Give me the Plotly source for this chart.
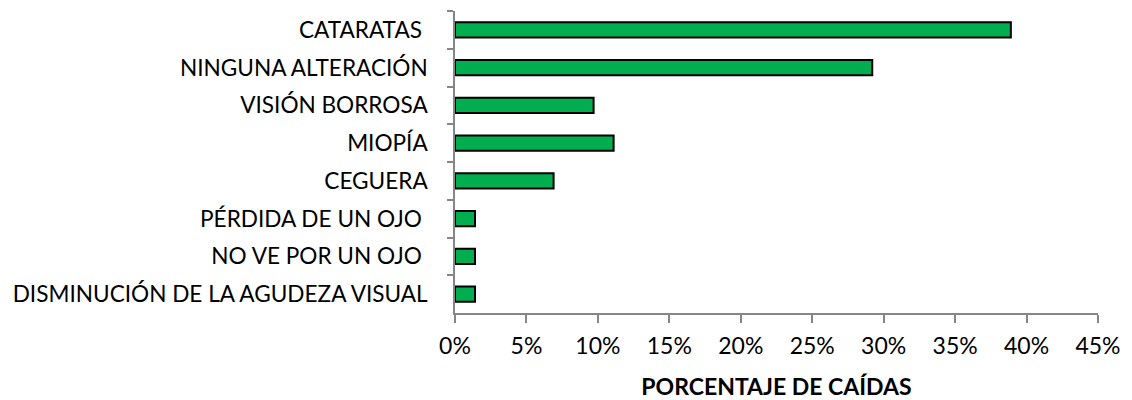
import plotly.graph_objects as go

categorias = [
    "CATARATAS\u00a0",
    "NINGUNA ALTERACIÓN",
    "VISIÓN BORROSA",
    "MIOPÍA",
    "CEGUERA",
    "PÉRDIDA DE UN OJO\u00a0",
    "NO VE POR UN OJO\u00a0",
    "DISMINUCIÓN DE LA AGUDEZA VISUAL",
]
porcentajes = [0.389, 0.292, 0.097, 0.111, 0.069, 0.014, 0.014, 0.014]
ticks_x = [0, 0.05, 0.10, 0.15, 0.20, 0.25, 0.30, 0.35, 0.40, 0.45]

fuente = "Lato"
gris = "#868686"

fig = go.Figure(go.Bar(
    x=porcentajes,
    y=categorias,
    orientation="h",
    width=0.4,
    marker=dict(color="#00AD4F", line=dict(color="black", width=2)),
))

# the page body has an 8px margin, so the figure is 8px smaller and shifted
fig.update_layout(
    width=1124, height=392,
    margin=dict(l=447, r=34, t=3, b=87),
    plot_bgcolor="white", paper_bgcolor="white",
    showlegend=False,
    font=dict(family=fuente, size=23, color="black"),
)
fig.update_xaxes(
    range=[0, 0.45], tickvals=ticks_x, tickformat=".0%",
    showgrid=False, zeroline=False, automargin=False,
    showline=True, linecolor=gris, linewidth=1.5,
    ticks="outside", ticklen=8, tickwidth=1.5, tickcolor=gris,
    ticklabelstandoff=4,
    title=dict(text="<b>PORCENTAJE DE CAÍDAS</b>", standoff=24,
               font=dict(family=fuente, size=23)),
)
fig.update_yaxes(
    autorange="reversed", tickson="boundaries",
    showgrid=False, zeroline=False, automargin=False,
    showline=True, linecolor=gris, linewidth=1.5,
    ticks="outside", ticklen=6, tickwidth=1.5, tickcolor=gris,
    ticklabelstandoff=21, tickfont=dict(size=22.6),
)

fig.write_html("out.html")
